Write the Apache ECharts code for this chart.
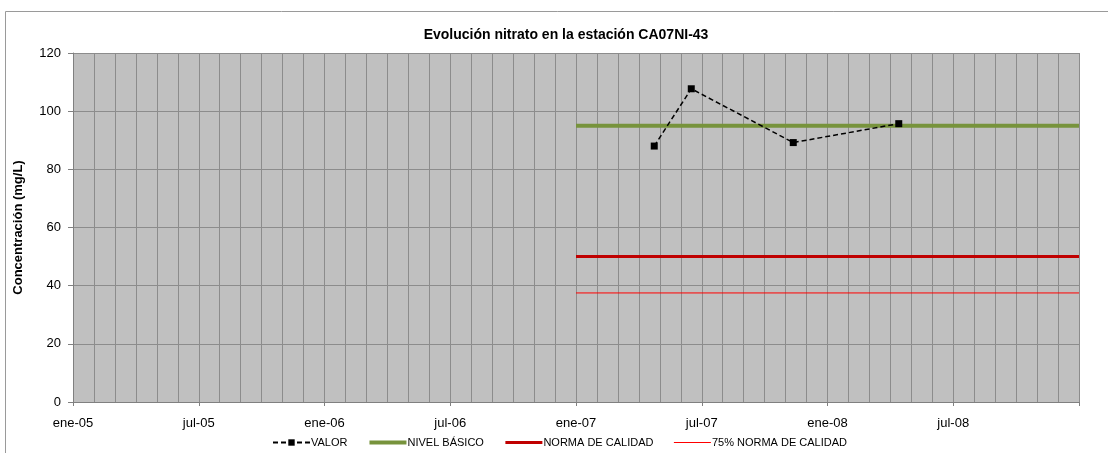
<!DOCTYPE html>
<html>
<head>
<meta charset="utf-8">
<script src="https://cdn.jsdelivr.net/npm/echarts@6/dist/echarts.min.js"></script>
<style>
html,body{margin:0;padding:0;background:#fff;}
#chart{width:1108px;height:453px;}
</style>
</head>
<body>
<div id="chart"></div>
<script>
// ---- data ----
const axisStart = '2005-01-01';
const axisEnd = '2009-01-01';
const monthNames = ['ene','feb','mar','abr','may','jun','jul','ago','sep','oct','nov','dic'];
const valorDates = ['2007-04-23', '2007-06-16', '2007-11-12', '2008-04-13'];
const valorValues = [88, 107.7, 89.2, 95.7];
const refDates = ['2007-01-01', '2009-01-01'];
const nivelBasico = [95, 95];
const normaCalidad = [50, 50];
const norma75 = [37.5, 37.5];
const seriesNames = ['VALOR', 'NIVEL BÁSICO', 'NORMA DE CALIDAD', '75% NORMA DE CALIDAD'];

// convert a date to a month index on the equally spaced monthly axis
function monthIndex(s) {
  const [y, m, d] = s.split('-').map(Number);
  const dim = new Date(y, m, 0).getDate();
  return (y - 2005) * 12 + (m - 1) + (d - 1) / dim;
}
function pairs(dates, vals) { return dates.map((d, i) => [monthIndex(d), vals[i]]); }
const xMax = monthIndex(axisEnd);

const FONT = '"Liberation Sans", Arial, sans-serif';
const chart = echarts.init(document.getElementById('chart'), null, {renderer: 'canvas'});
chart.setOption({
  animation: false,
  backgroundColor: '#fff',
  textStyle: {fontFamily: FONT},
  graphic: [{
    type: 'rect', silent: true, z: -10,
    shape: {x: 5.5, y: 11.5, width: 1200, height: 600},
    style: {fill: 'none', stroke: '#9a9a9a', lineWidth: 1}
  }],
  title: {
    text: 'Evolución nitrato en la estación CA07NI-43',
    left: 561, top: 23, textAlign: 'center',
    textStyle: {fontFamily: FONT, fontSize: 14, fontWeight: 'bold', color: '#000'}
  },
  legend: {
    top: 432, left: 267,
    itemWidth: 37, itemHeight: 8, itemGap: 20,
    data: [
      {name: seriesNames[0]},
      {name: seriesNames[1], itemStyle: {opacity: 0}, lineStyle: {width: 4}},
      {name: seriesNames[2], itemStyle: {opacity: 0}, lineStyle: {width: 3}},
      {name: seriesNames[3], itemStyle: {opacity: 0}, lineStyle: {width: 1}}
    ],
    textStyle: {fontFamily: FONT, fontSize: 11, color: '#000', padding: [0,0,0,-4]}
  },
  grid: {left: 73, right: 29, top: 53, bottom: 51, show: true, backgroundColor: '#c0c0c0', borderColor: '#8c8c8c', borderWidth: 0},
  xAxis: [{
    type: 'value', min: 0, max: xMax, interval: 1,
    axisLine: {show: true, lineStyle: {color: '#808080', width: 1}},
    axisTick: {show: false},
    axisLabel: {show: false},
    splitLine: {show: true, lineStyle: {color: '#8c8c8c', width: 1}}
  }, {
    type: 'value', min: 0, max: xMax, interval: 6, position: 'bottom',
    axisLine: {show: false},
    axisTick: {show: true, length: 4, lineStyle: {color: '#808080'}},
    splitLine: {show: false},
    axisLabel: {
      show: true, margin: 15, color: '#000', fontFamily: FONT, fontSize: 13,
      formatter: function (v) {
        if (v >= xMax) return '';
        const y = 5 + Math.floor(v / 12);
        return monthNames[v % 12] + '-' + (y < 10 ? '0' + y : y);
      }
    }
  }],
  yAxis: {
    type: 'value', min: 0, max: 120, interval: 20,
    name: 'Concentración (mg/L)', nameLocation: 'middle', nameGap: 48,
    nameTextStyle: {fontFamily: FONT, fontSize: 13, fontWeight: 'bold', color: '#000'},
    axisLine: {show: true, lineStyle: {color: '#808080'}},
    axisTick: {show: true, length: 5, lineStyle: {color: '#808080'}},
    axisLabel: {color: '#000', fontFamily: FONT, fontSize: 13, margin: 12},
    splitLine: {show: true, lineStyle: {color: '#8c8c8c', width: 1}}
  },
  series: [{
    name: seriesNames[1], type: 'line', xAxisIndex: 0, data: pairs(refDates, nivelBasico),
    symbol: 'none', lineStyle: {color: '#77933c', width: 4}, itemStyle: {color: '#77933c'}, z: 2
  }, {
    name: seriesNames[2], type: 'line', xAxisIndex: 0, data: pairs(refDates, normaCalidad),
    symbol: 'none', lineStyle: {color: '#c00000', width: 3}, itemStyle: {color: '#c00000'}, z: 2
  }, {
    name: seriesNames[3], type: 'line', xAxisIndex: 0, data: pairs(refDates, norma75),
    symbol: 'none', lineStyle: {color: '#ff0000', width: 1}, itemStyle: {color: '#ff0000'}, z: 2
  }, {
    name: seriesNames[0], type: 'line', xAxisIndex: 0, data: pairs(valorDates, valorValues),
    symbol: 'rect', symbolSize: 7, showSymbol: true,
    lineStyle: {color: '#000', width: 1.5, type: [5, 3]}, itemStyle: {color: '#000'}, z: 3
  }]
});
</script>
</body>
</html>
